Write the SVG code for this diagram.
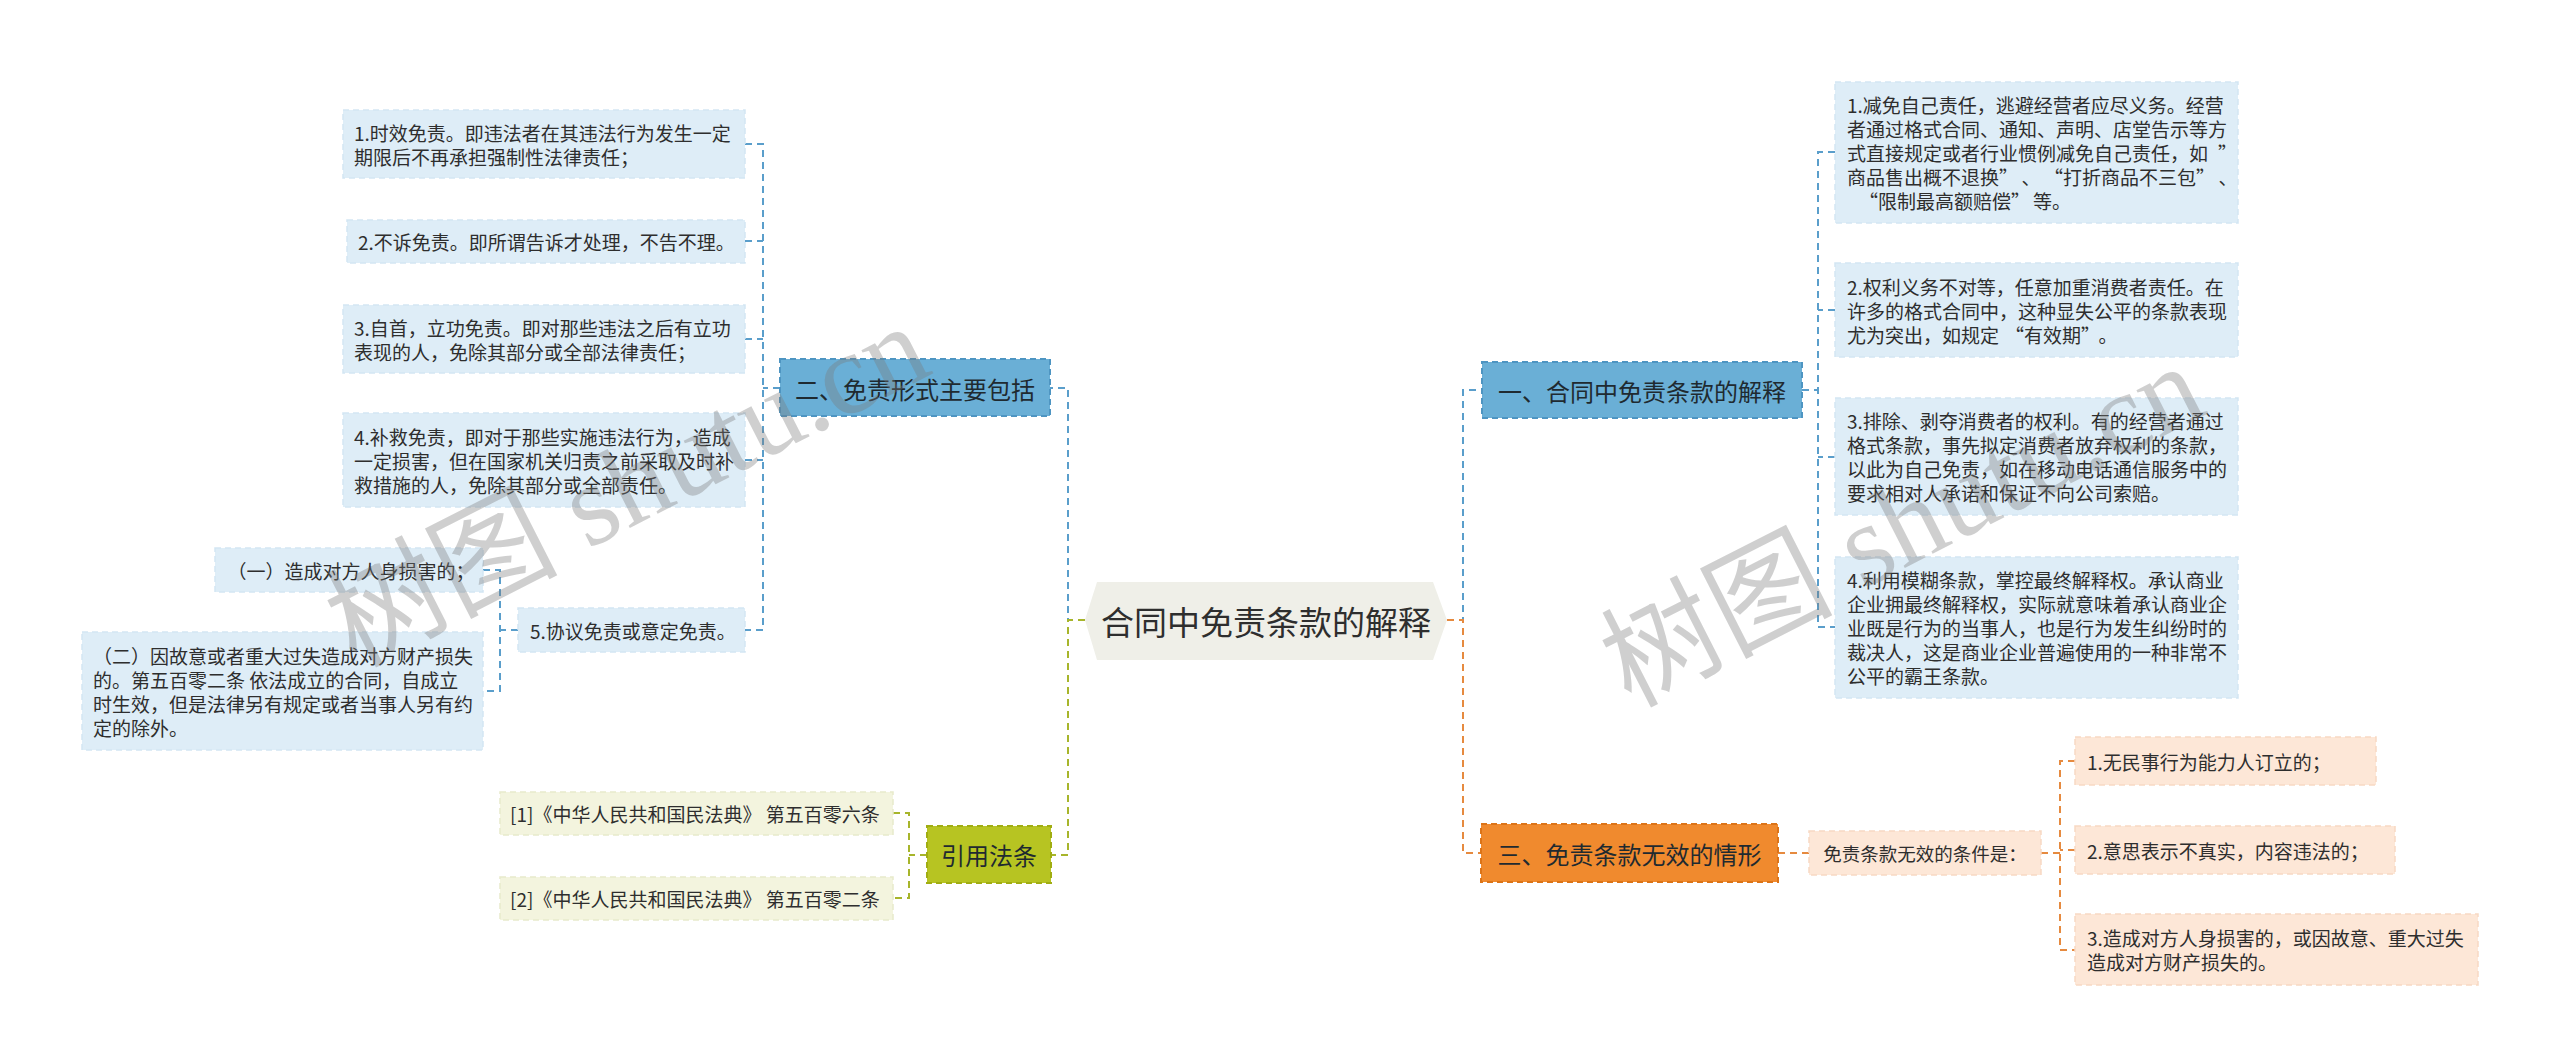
<svg xmlns="http://www.w3.org/2000/svg" width="2560" height="1059" viewBox="0 0 2560 1059">
<style>
.t{font-family:"Noto Sans CJK SC","Noto Sans",sans-serif;fill:#2e2e2e;dominant-baseline:central}
.leaf{font-size:19px}
.l1{font-size:24px;fill:#1f2a30}
.c{fill:none;stroke-width:2;stroke-dasharray:7 5}
.blue{stroke:#5a9ecb}
.green{stroke:#a7b52b}
.orange{stroke:#e68a3f}
.bbox{fill:#deedf7;stroke:#d3e6f3;stroke-width:1.5;stroke-dasharray:6 4}
.gbox{fill:#f3f4de;stroke:#e8eacb;stroke-width:1.5;stroke-dasharray:6 4}
.obox{fill:#fde7d7;stroke:#f7d9c3;stroke-width:1.5;stroke-dasharray:6 4}
.wm{font-family:"Liberation Serif","Noto Sans CJK SC",serif;font-size:116px;fill:#7a7a7a;fill-opacity:0.36}
</style>
<rect width="2560" height="1059" fill="#ffffff"/>

<g id="connectors">
<path class="c blue" d="M1085 620 H1068 V388 H1050"/>
<path class="c green" d="M1085 620 H1068 V855 H1051"/>
<path class="c blue" d="M1447 620 H1463 V390 H1482"/>
<path class="c orange" d="M1447 620 H1463 V853 H1481"/>
<path class="c blue" d="M780 388 H763 M745 144 H763 V630 H745 M745 241 H763 M745 339 H763 M745 460 H763"/>
<path class="c blue" d="M518 630 H500 M483 570 H500 V691 H483"/>
<path class="c green" d="M927 855 H909 M893 813 H909 V898 H893"/>
<path class="c blue" d="M1802 390 H1818 M1835 152 H1818 V627 H1835 M1835 310 H1818 M1835 457 H1818"/>
<path class="c orange" d="M1778 853 H1809"/>
<path class="c orange" d="M2041 853 H2060 M2075 761 H2060 V950 H2075 M2075 850 H2060"/>
</g>

<g id="center">
<polygon points="1085,620 1097,582 1433,582 1447,620 1433,660 1097,660" fill="#efefe8"/>
<text class="t" x="1266" y="621" text-anchor="middle" font-size="33" fill="#1a1a1a">合同中免责条款的解释</text>
</g>

<g id="n2">
<rect x="780" y="359" width="270" height="57" fill="#6aafd6" stroke="#4e95c2" stroke-width="2" stroke-dasharray="6 4"/>
<text class="t l1" x="915" y="388" text-anchor="middle">二、免责形式主要包括</text>
</g>
<g id="n2-1">
<rect class="bbox" x="343" y="110" width="402" height="68"/>
<text class="t leaf" x="354" y="132">1.时效免责。即违法者在其违法行为发生一定</text>
<text class="t leaf" x="354" y="156">期限后不再承担强制性法律责任；</text>
</g>
<g id="n2-2">
<rect class="bbox" x="347" y="220" width="398" height="43"/>
<text class="t leaf" x="358" y="241.5">2.不诉免责。即所谓告诉才处理，不告不理。</text>
</g>
<g id="n2-3">
<rect class="bbox" x="343" y="305" width="402" height="68"/>
<text class="t leaf" x="354" y="327">3.自首，立功免责。即对那些违法之后有立功</text>
<text class="t leaf" x="354" y="351">表现的人，免除其部分或全部法律责任；</text>
</g>
<g id="n2-4">
<rect class="bbox" x="343" y="413" width="402" height="94"/>
<text class="t leaf" x="354" y="436">4.补救免责，即对于那些实施违法行为，造成</text>
<text class="t leaf" x="354" y="460">一定损害，但在国家机关归责之前采取及时补</text>
<text class="t leaf" x="354" y="484">救措施的人，免除其部分或全部责任。</text>
</g>
<g id="n2-5">
<rect class="bbox" x="518" y="608" width="227" height="44"/>
<text class="t leaf" x="530" y="630">5.协议免责或意定免责。</text>
</g>
<g id="n2-5-1">
<rect class="bbox" x="215" y="548" width="268" height="44"/>
<text class="t leaf" x="351" y="570" text-anchor="middle">（一）造成对方人身损害的；</text>
</g>
<g id="n2-5-2">
<rect class="bbox" x="82" y="632" width="401" height="118"/>
<text class="t leaf" x="93" y="655">（二）因故意或者重大过失造成对方财产损失</text>
<text class="t leaf" x="93" y="679">的。第五百零二条 依法成立的合同，自成立</text>
<text class="t leaf" x="93" y="703">时生效，但是法律另有规定或者当事人另有约</text>
<text class="t leaf" x="93" y="727">定的除外。</text>
</g>

<g id="ref">
<rect x="927" y="826" width="124" height="57" fill="#b7c422" stroke="#a0ad12" stroke-width="2" stroke-dasharray="6 4"/>
<text class="t l1" x="989" y="854.5" text-anchor="middle">引用法条</text>
</g>
<g id="ref-1">
<rect class="gbox" x="500" y="792" width="393" height="43"/>
<text class="t leaf" x="510" y="813.5">[1]《中华人民共和国民法典》 第五百零六条</text>
</g>
<g id="ref-2">
<rect class="gbox" x="500" y="877" width="393" height="43"/>
<text class="t leaf" x="510" y="898.5">[2]《中华人民共和国民法典》 第五百零二条</text>
</g>

<g id="n1">
<rect x="1482" y="362" width="320" height="56" fill="#6aafd6" stroke="#4e95c2" stroke-width="2" stroke-dasharray="6 4"/>
<text class="t l1" x="1642" y="390" text-anchor="middle">一、合同中免责条款的解释</text>
</g>
<g id="n1-1">
<rect class="bbox" x="1835" y="82" width="403" height="141"/>
<text class="t leaf" x="1847" y="104">1.减免自己责任，逃避经营者应尽义务。经营</text>
<text class="t leaf" x="1847" y="128">者通过格式合同、通知、声明、店堂告示等方</text>
<text class="t leaf" x="1847" y="152">式直接规定或者行业惯例减免自己责任，如<tspan dx="10">”</tspan></text>
<text class="t leaf" x="1847" y="176">商品售出概不退换”<tspan dx="13">、</tspan><tspan dx="13">“</tspan>打折商品不三包”<tspan dx="13">、</tspan></text>
<text class="t leaf" x="1847" y="200"><tspan dx="12">“</tspan>限制最高额赔偿”<tspan dx="3">等。</tspan></text>
</g>
<g id="n1-2">
<rect class="bbox" x="1835" y="263" width="403" height="94"/>
<text class="t leaf" x="1847" y="286">2.权利义务不对等，任意加重消费者责任。在</text>
<text class="t leaf" x="1847" y="310">许多的格式合同中，这种显失公平的条款表现</text>
<text class="t leaf" x="1847" y="334">尤为突出，如规定<tspan dx="6">“</tspan>有效期”<tspan dx="8">。</tspan></text>
</g>
<g id="n1-3">
<rect class="bbox" x="1835" y="398" width="403" height="117"/>
<text class="t leaf" x="1847" y="420.5">3.排除、剥夺消费者的权利。有的经营者通过</text>
<text class="t leaf" x="1847" y="444.5">格式条款，事先拟定消费者放弃权利的条款，</text>
<text class="t leaf" x="1847" y="468.5">以此为自己免责，如在移动电话通信服务中的</text>
<text class="t leaf" x="1847" y="492.5">要求相对人承诺和保证不向公司索赔。</text>
</g>
<g id="n1-4">
<rect class="bbox" x="1835" y="557" width="403" height="141"/>
<text class="t leaf" x="1847" y="579.5">4.利用模糊条款，掌控最终解释权。承认商业</text>
<text class="t leaf" x="1847" y="603.5">企业拥最终解释权，实际就意味着承认商业企</text>
<text class="t leaf" x="1847" y="627.5">业既是行为的当事人，也是行为发生纠纷时的</text>
<text class="t leaf" x="1847" y="651.5">裁决人，这是商业企业普遍使用的一种非常不</text>
<text class="t leaf" x="1847" y="675.5">公平的霸王条款。</text>
</g>

<g id="n3">
<rect x="1481" y="824" width="297" height="58" fill="#f08a2e" stroke="#dc7418" stroke-width="2" stroke-dasharray="6 4"/>
<text class="t l1" x="1629.5" y="853" text-anchor="middle" fill="#2b1a0c">三、免责条款无效的情形</text>
</g>
<g id="n3-1">
<rect class="obox" x="1809" y="831" width="232" height="44"/>
<text class="t" x="1925" y="853" text-anchor="middle" font-size="18.5">免责条款无效的条件是：</text>
</g>
<g id="n3-1-1">
<rect class="obox" x="2075" y="737" width="301" height="48"/>
<text class="t leaf" x="2087" y="761">1.无民事行为能力人订立的；</text>
</g>
<g id="n3-1-2">
<rect class="obox" x="2075" y="826" width="320" height="48"/>
<text class="t leaf" x="2087" y="850">2.意思表示不真实，内容违法的；</text>
</g>
<g id="n3-1-3">
<rect class="obox" x="2075" y="914" width="403" height="71"/>
<text class="t leaf" x="2087" y="937.5">3.造成对方人身损害的，或因故意、重大过失</text>
<text class="t leaf" x="2087" y="961.5">造成对方财产损失的。</text>
</g>

<g id="watermark">
<text class="wm" x="355" y="668" transform="rotate(-27 355 668)">树图 shutu.cn</text>
<text class="wm" x="1630" y="708" transform="rotate(-27 1630 708)">树图 shutu.cn</text>
</g>
</svg>
